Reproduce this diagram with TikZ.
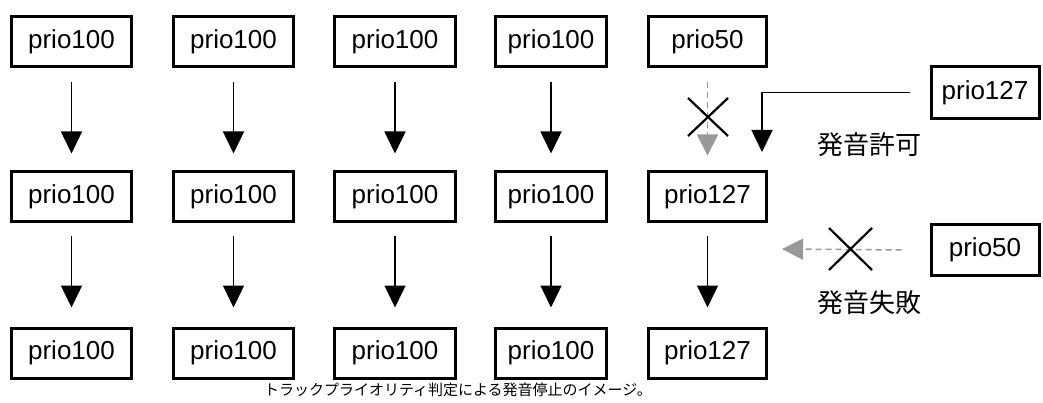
\documentclass[tikz,border=0pt]{standalone}
\usepackage{fontspec}
\setmainfont{Liberation Sans}
\newfontfamily\jp{Noto Sans CJK JP}
\usetikzlibrary{arrows.meta}
\definecolor{dgray}{HTML}{999999}
\begin{document}
\begin{tikzpicture}[x=1pt,y=-1pt,
  box/.style={draw,line width=3pt,inner sep=0pt,minimum height=50pt,
    font=\fontsize{26}{30}\selectfont},
  arr/.style={line width=1.5pt,-{Triangle[width=21pt,length=22pt]}},
  garr/.style={dgray,line width=1.5pt,dash pattern=on 6pt off 4pt,
    -{Triangle[width=21pt,length=21pt,fill=dgray]}},
  cross/.style={line width=2.2pt},
  jlab/.style={font=\jp\fontsize{26}{30}\selectfont,inner sep=0pt},
  captxt/.style={font=\jp\fontsize{15}{17}\selectfont,inner sep=0pt}]
\useasboundingbox (0,0) rectangle (1043,403);
% columns 1-4
\foreach \i/\x/\w in {1/71.5/120,2/233.5/120,3/395/121,4/551/111}{
  \node[box,minimum width=\w pt] (a\i) at (\x,42) {prio100};
  \node[box,minimum width=\w pt] (b\i) at (\x,197) {prio100};
  \node[box,minimum width=\w pt] (c\i) at (\x,353) {prio100};
  \draw[arr] ([yshift=-14pt]a\i.south) -- ([yshift=17pt]b\i.north);
  \draw[arr] ([yshift=-13pt]b\i.south) -- ([yshift=19pt]c\i.north);
}
% column 5
\node[box,minimum width=118pt] (a5) at (707.5,42) {prio50};
\node[box,minimum width=118pt] (b5) at (707.5,197) {prio127};
\node[box,minimum width=118pt] (c5) at (707.5,353) {prio127};
\draw[garr] ([yshift=-14pt]a5.south) -- ([yshift=15pt]b5.north);
\draw[cross] (688,98) -- (728,136) (728,98) -- (688,136);
\draw[arr] ([yshift=-13pt]b5.south) -- ([yshift=19pt]c5.north);
% right side
\node[box,minimum width=108pt,minimum height=52pt] (r1) at (985,92.5) {prio127};
\node[box,minimum width=108pt,minimum height=51pt] (r2) at (985,250) {prio50};
\coordinate (ok) at (762,152);
\draw[arr] ([xshift=-20pt]r1.west) -| (ok);
\coordinate (ng) at (782,249);
\draw[garr] ([xshift=-28pt]r2.west) -- (ng);
\draw[cross] (829,228) -- (872,270) (872,228) -- (829,270);
\node[jlab] (l1) at (869,145) {発音許可};
\node[jlab] (l2) at (869,303) {発音失敗};
\node[captxt] (cp) at (458,390) {トラックプライオリティ判定による発音停止のイメージ。};
\end{tikzpicture}
\end{document}
